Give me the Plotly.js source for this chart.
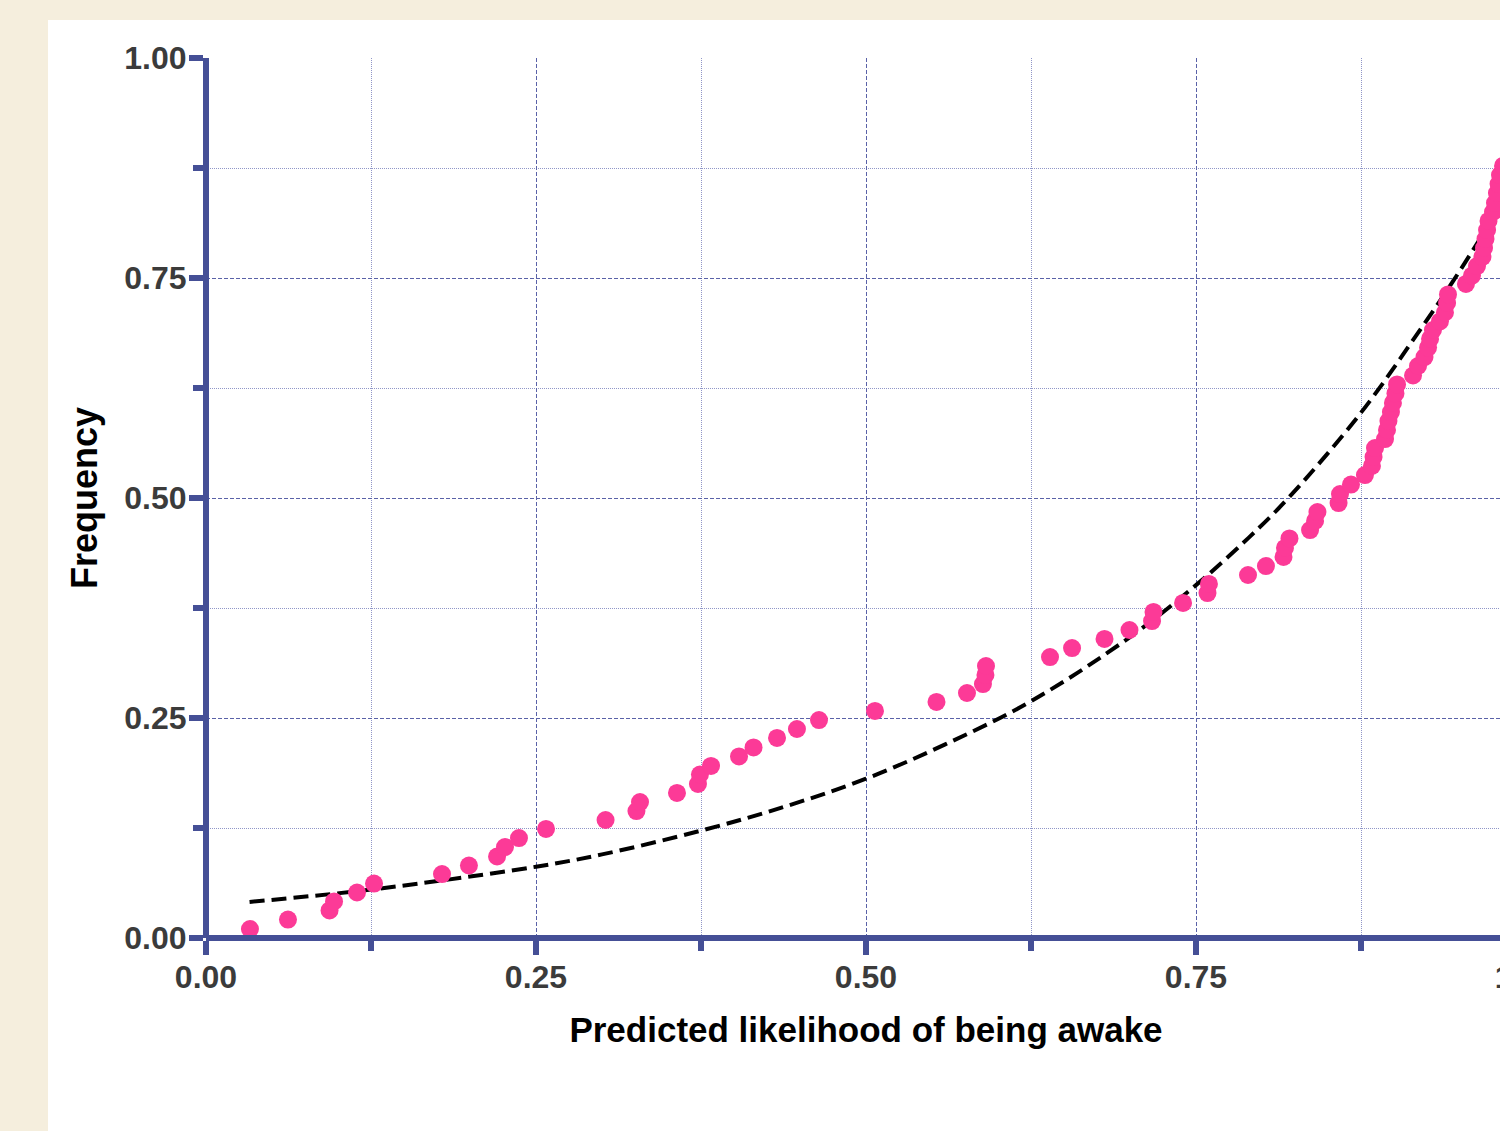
<!DOCTYPE html>
<html><head><meta charset="utf-8">
<script src="https://cdn.plot.ly/plotly-3.0.1.min.js"></script>
<style>
html,body{margin:0;padding:0;background:#F5EEDD;width:1500px;height:1131px;overflow:hidden;position:relative;}
#chart{position:absolute;left:48px;top:20px;width:1540px;height:1111px;}
</style></head><body><div id="chart"></div><script>
// Observed points (predicted likelihood vs cumulative frequency)
const predicted = [0.0333,0.0621,0.0936,0.0970,0.1144,0.1273,0.1788,0.1992,0.2205,0.2265,
0.2371,0.2576,0.3027,0.3261,0.3288,0.3568,0.3727,0.3742,0.3826,0.4038,
0.4148,0.4326,0.4477,0.4644,0.5068,0.5534,0.5765,0.5886,0.5905,0.5909,
0.6394,0.6561,0.6807,0.6996,0.7167,0.7178,0.7402,0.7587,0.7598,0.7894,
0.8030,0.8163,0.8174,0.8208,0.8364,0.8402,0.8420,0.8580,0.8591,0.8674,
0.8780,0.8833,0.8845,0.8856,0.8932,0.8947,0.8958,0.8977,0.8992,0.9011,
0.9023,0.9144,0.9182,0.9231,0.9258,0.9273,0.9295,0.9348,0.9386,0.9402,
0.9409,0.9545,0.9591,0.9629,0.9670,0.9682,0.9693,0.9705,0.9716,0.9750,
0.9765,0.9780,0.9792,0.9803,0.9826];
const frequency = [0.0102,0.0210,0.0313,0.0415,0.0517,0.0619,0.0727,0.0824,0.0926,0.1034,
0.1136,0.1239,0.1341,0.1443,0.1545,0.1648,0.1750,0.1858,0.1955,0.2063,
0.2165,0.2273,0.2375,0.2477,0.2580,0.2682,0.2784,0.2886,0.2989,0.3091,
0.3193,0.3295,0.3398,0.3500,0.3602,0.3705,0.3807,0.3920,0.4023,0.4125,
0.4227,0.4330,0.4432,0.4540,0.4636,0.4739,0.4841,0.4943,0.5045,0.5153,
0.5261,0.5364,0.5466,0.5568,0.5670,0.5773,0.5875,0.5977,0.6080,0.6188,
0.6290,0.6392,0.6500,0.6602,0.6710,0.6807,0.6909,0.7006,0.7108,0.7216,
0.7313,0.7432,0.7528,0.7636,0.7739,0.7841,0.7943,0.8045,0.8148,0.8250,
0.8352,0.8466,0.8568,0.8670,0.8773];
// Fitted curve (dashed)
const curveX = [0.033,0.125,0.25,0.30,0.375,0.44,0.5,0.56,0.625,0.70,0.75,0.79,0.82,0.875,0.917,0.945,0.97];
const curveY = [0.041,0.055,0.081,0.095,0.122,0.150,0.181,0.220,0.269,0.342,0.401,0.455,0.500,0.597,0.685,0.747,0.806];

const xTitle = 'Predicted likelihood of being awake';
const yTitle = 'Frequency';

const axisColor = '#454F96';
const majorGrid = '#5A62A8';
const minorGrid = '#9096C8';
const fontFam = 'Liberation Sans, Arial, Helvetica, sans-serif';

function axis(title, standoff, labelShift, titleSize){
  return {
    range:[0,1], dtick:0.25, tick0:0, tickformat:'.2f',
    anchor:'free', position:0,
    showline:true, linecolor:axisColor, linewidth:6,
    ticks:'outside', ticklen:14, tickwidth:6, tickcolor:axisColor,
    showgrid:true, gridcolor:majorGrid, gridwidth:1, griddash:'4px,2px',
    zeroline:false, fixedrange:true,
    ticklabelstandoff:labelShift,
    tickfont:{family:fontFam, size:32, color:'#3b3b3b', weight:'bold'},
    minor:{dtick:0.125, tick0:0, ticks:'outside', ticklen:10, tickwidth:6, tickcolor:axisColor,
      showgrid:true, gridcolor:minorGrid, gridwidth:1, griddash:'1px,1px'},
    title:{text:title, standoff:standoff, font:{family:fontFam, size:titleSize, color:'#000', weight:'bold'}}
  };
}

const traces = [
  {x:curveX, y:curveY, type:'scatter', mode:'lines',
   line:{color:'#000', width:4, dash:'15px,7px', shape:'spline', smoothing:1}, hoverinfo:'skip'},
  {x:predicted, y:frequency, type:'scatter', mode:'markers',
   marker:{size:18, color:'#FC3A97', line:{width:0}}}
];

const layout = {
  width:1540, height:1111,
  margin:{l:158, r:62, t:38, b:193},
  paper_bgcolor:'#ffffff', plot_bgcolor:'#ffffff',
  showlegend:false, hovermode:false,
  xaxis:axis(xTitle, 22, -5, 35),
  yaxis:axis(yTitle, 15, -4, 36)
};

Plotly.newPlot('chart', traces, layout, {displayModeBar:false, staticPlot:true});
</script></body></html>
